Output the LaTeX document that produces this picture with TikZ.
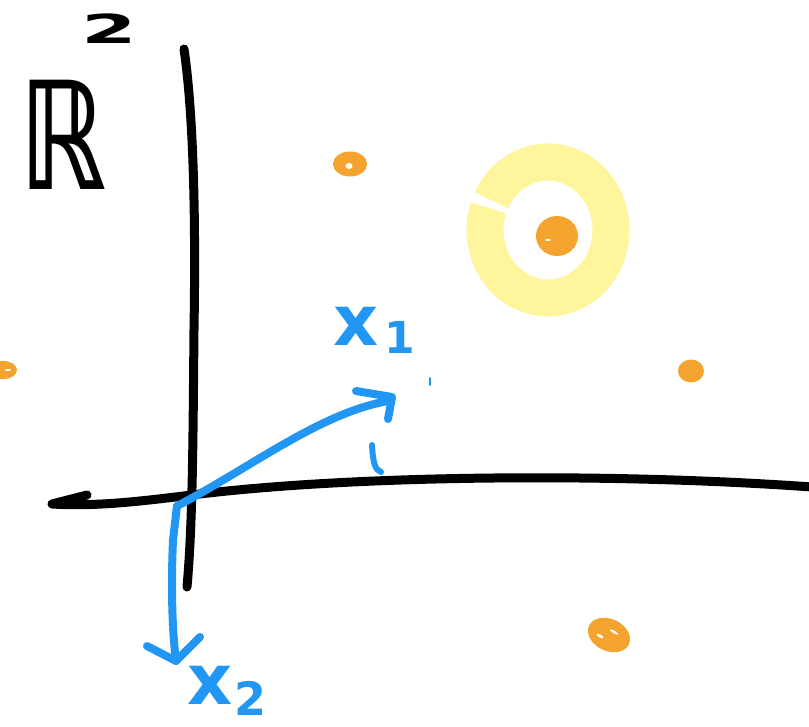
\documentclass[tikz,border=0pt]{standalone}
\usepackage{fontspec}
\newfontfamily\hand{DejaVu Sans}
\definecolor{blu}{HTML}{2196F3}
\definecolor{org}{HTML}{F4A32F}
\definecolor{ylw}{HTML}{FFF59D}
\tikzset{
  axisline/.style={line width=9pt, line cap=round, line join=round, black},
  vecline/.style={line width=8pt, line cap=round, line join=round, blu},
  dotfill/.style={fill=org, draw=none},
  speck/.style={fill=white, draw=none},
  ringstroke/.style={draw=ylw, line width=37pt, line cap=butt},
  lbl/.style={text=blu, inner sep=0pt, font=\hand\bfseries\fontsize{70}{70}\selectfont},
  spacelbl/.style={text=black, inner sep=0pt, font=\hand\bfseries\fontsize{150}{150}\selectfont}
}
\begin{document}
\begin{tikzpicture}[x=1pt,y=-1pt]
\useasboundingbox (0,0) rectangle (809,727);
% ring
\draw[ringstroke] (548,230) ++(206:63 and 68) arc[start angle=206, end angle=559, x radius=63, y radius=68];
% dots
\fill[dotfill] (350,164) ellipse [x radius=17, y radius=12.5];
\fill[speck] (349,166) ellipse [x radius=3.5, y radius=3];
\fill[dotfill] (557,236) ellipse [x radius=21, y radius=20];
\fill[speck] (548,240) ellipse [x radius=3, y radius=1];
\fill[dotfill] (3,370) ellipse [x radius=14, y radius=9];
\fill[speck] (8,370) ellipse [x radius=3, y radius=1];
\fill[dotfill] (691,371) ellipse [x radius=13, y radius=11.5];
\fill[dotfill, rotate around={-25:(609,635)}] (609,635) ellipse [x radius=22, y radius=16];
\fill[speck, rotate around={-30:(600,636)}] (600,636) ellipse [x radius=4, y radius=1.5];
\fill[speck, rotate around={-30:(614,632)}] (614,632) ellipse [x radius=5, y radius=1.2];
% axes
\coordinate (O) at (177,506);
\coordinate (Ytop) at (184,49);
\coordinate (Ybot) at (187,587);
\coordinate (Xleft) at (52,504);
\coordinate (Xhook) at (87,495);
\coordinate (Xright) at (812,487);
\draw[axisline] (Ytop) .. controls (193,110) and (196,210) .. (194,330) .. controls (193,430) and (193,520) .. (Ybot);
\draw[axisline] (Xhook) -- (Xleft) .. controls (100,507) and (150,500) .. (200,494) .. controls (350,476) and (600,472) .. (Xright);
% vectors
\coordinate (T1) at (388,401);
\coordinate (T2) at (176,661);
\draw[vecline] (O) .. controls (250,468) and (320,413) .. (T1);
\draw[vecline] (356,391) -- (392,397) -- (388,419);
\draw[vecline] (O) -- (173,540) .. controls (171,585) and (172,630) .. (T2);
\draw[vecline] (147,646) -- (T2) -- (200,637);
\draw[vecline, line width=6pt] (372,445) .. controls (373,463) and (375,470) .. (381,472);
\draw[blu, line width=2pt, line cap=round] (430,378) -- (430,385);
% labels
\node[lbl, anchor=base west] (x1) at (333,346) {x\hspace{6pt}\raisebox{-8pt}{\fontsize{44}{44}\selectfont 1}};
\node[lbl, anchor=base west] (x2) at (187,704) {x\hspace{2pt}\raisebox{-11pt}{\fontsize{46}{46}\selectfont 2}};
\node[spacelbl, anchor=base west] (R2) at (19,190) {\scalebox{0.72}[1]{ℝ}\hspace{-24pt}\raisebox{146pt}{\scalebox{2}[1]{\fontsize{40}{40}\selectfont 2}}};
\end{tikzpicture}
\end{document}
